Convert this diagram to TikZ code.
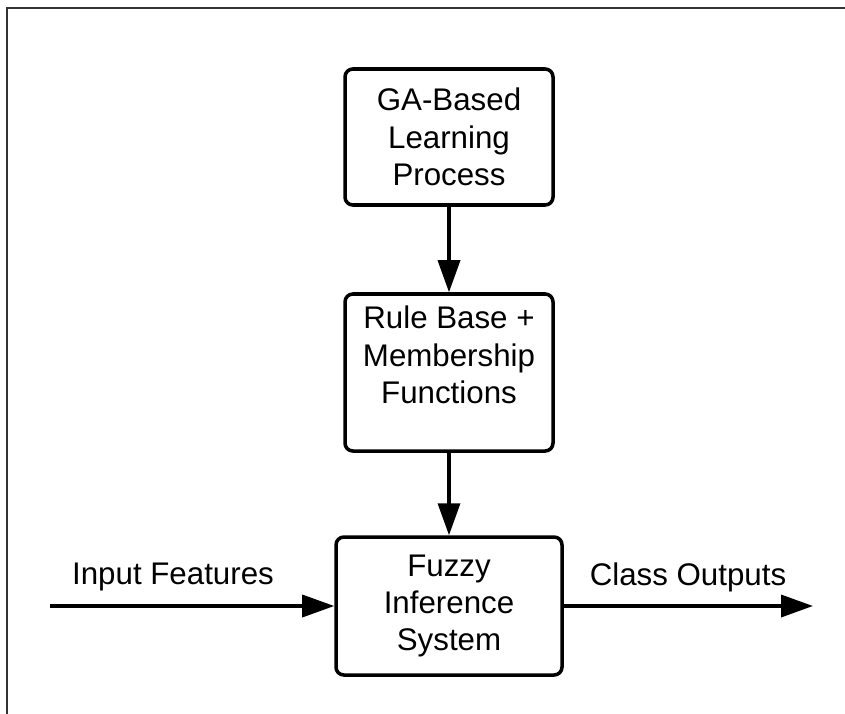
\documentclass[tikz,border=0pt]{standalone}
\usepackage{fontspec}
\setmainfont{Liberation Sans}
\usetikzlibrary{arrows.meta}

\tikzset{
    block/.style={draw, line width=2pt, rounded corners=4.5pt, minimum width=4.16cm, inner sep=0pt},
    label text/.style={align=center, font=\fontsize{17.8}{21.2}\selectfont},
    flow/.style={line width=2pt, -{Triangle[length=0.64cm, width=0.44cm]}}
}

\begin{document}
\begin{tikzpicture}
    \useasboundingbox (0,0) rectangle (16.9,-14.26);

    % Frame
    \draw[black!80, line width=0.8pt] (0.14,-14.4) -- (0.14,-0.16) -- (17.0,-0.16);

    % Boxes
    \node[block, minimum height=2.72cm, label text] (ga) at (8.98,-2.74)
        {GA-Based\\Learning\\Process};
    \node[block, minimum height=3.14cm] (rules) at (8.98,-7.45) {};
    \node[label text] (rulestext) at (8.98,-7.1)
        {Rule Base +\\Membership\\Functions};
    \node[block, minimum width=4.52cm, minimum height=2.76cm, label text] (fis) at (8.98,-12.12)
        {Fuzzy\\Inference\\System};

    % Free ends
    \coordinate (in) at (1.0,-12.12);
    \coordinate (out) at (16.26,-12.12);

    % Arrows
    \draw[flow] (ga) -- (rules);
    \draw[flow] (rules) -- (fis);
    \draw[flow] (in) -- (fis);
    \draw[flow] (fis) -- (out);

    % Labels
    \node[label text] (inlabel) at (3.46,-11.54) {Input Features};
    \node[label text] (outlabel) at (13.76,-11.54) {Class Outputs};
\end{tikzpicture}
\end{document}
